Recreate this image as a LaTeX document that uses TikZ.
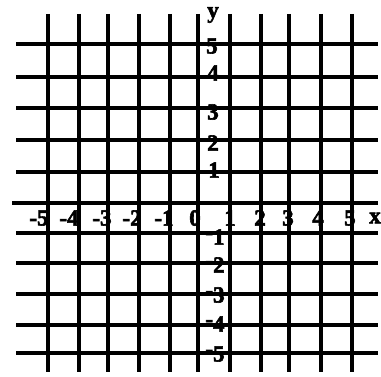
\documentclass[tikz,border=0pt]{standalone}
\usepackage{fontspec}
\setmainfont{Liberation Serif}
\newfontfamily\labfont{Liberation Serif Bold}[FakeBold=2.5]
\begin{document}
\begin{tikzpicture}[x=1pt,y=-1pt,
  gridline/.style={line width=4.4pt,black},
  lab/.style={font=\fontsize{23}{23}\labfont,inner sep=0pt,text=black},
  neg/.style={lab}]
\useasboundingbox (0,0) rectangle (381,377);
\fill[white] (0,0) rectangle (381,377);
% vertical grid lines
\foreach \x in {48,79,108,139,170,198,230,261,289,321,352}
  \draw[gridline] (\x,14) -- (\x,372);
% horizontal grid lines
\foreach \y in {44,77,108,140,172,233,263,294,325,353}
  \draw[gridline] (16,\y) -- (378,\y);
% x-axis line
\draw[gridline] (12,203) -- (378,203);
% x-axis labels
\node[lab] (xm5) at (39,218) {-5};
\node[lab] (xm4) at (69,218) {-4};
\node[lab] (xm3) at (102,218) {-3};
\node[lab] (xm2) at (132,218) {-2};
\node[lab] (xm1) at (164,218) {-1};
\node[lab] (x0) at (195,218) {0};
\node[lab] (x1) at (230,218) {1};
\node[lab] (x2) at (260,218) {2};
\node[lab] (x3) at (288,218) {3};
\node[lab] (x4) at (318,218) {4};
\node[lab] (x5) at (350,218) {5};
\node[lab] (xl) at (375,218) {x};
% y-axis labels
\node[lab] (yl) at (213,15) {y};
\node[lab] (y5) at (212,46) {5};
\node[lab] (y4) at (213,73) {4};
\node[lab] (y3) at (213,112) {3};
\node[lab] (y2) at (213,143) {2};
\node[lab] (y1) at (214,170) {1};
\node[neg] (ym1) at (215,237) {\raisebox{5pt}{-}1};
\node[neg] (ym2) at (215,265) {\raisebox{5pt}{-}2};
\node[neg] (ym3) at (215,295) {\raisebox{5pt}{-}3};
\node[neg] (ym4) at (215,324) {\raisebox{5pt}{-}4};
\node[neg] (ym5) at (215,354) {\raisebox{5pt}{-}5};
\end{tikzpicture}
\end{document}
